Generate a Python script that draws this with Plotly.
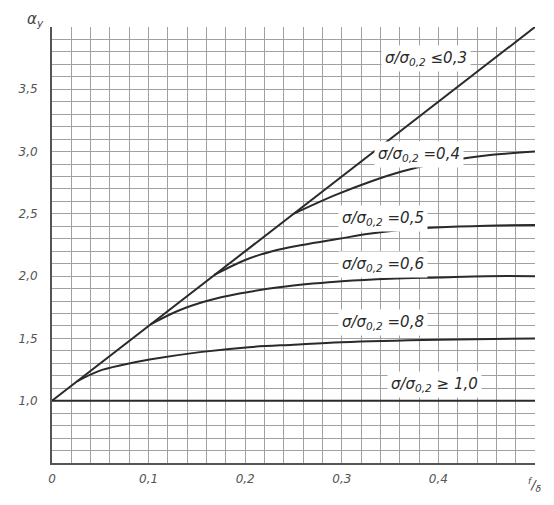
import plotly.graph_objects as go

# f/delta vs alpha_y, one curve per sigma/sigma0.2 ratio
# (curves start where they leave the straight line)
x_03 = [0.0, 0.5]
y_03 = [1.0, 4.0]

x_04 = [0.25, 0.293, 0.33, 0.362, 0.4, 0.431, 0.465, 0.5]
y_04 = [2.5, 2.65, 2.76, 2.84, 2.91, 2.95, 2.98, 3.0]

x_05 = [0.168, 0.2, 0.228, 0.259, 0.297, 0.328, 0.36, 0.397, 0.45, 0.5]
y_05 = [2.01, 2.13, 2.2, 2.25, 2.3, 2.34, 2.37, 2.39, 2.405, 2.41]

x_06 = [0.102, 0.13, 0.16, 0.194, 0.235, 0.27, 0.3, 0.35, 0.4, 0.45, 0.5]
y_06 = [1.612, 1.72, 1.8, 1.86, 1.91, 1.94, 1.96, 1.98, 1.99, 2.0, 2.0]

x_08 = [0.026, 0.049, 0.075, 0.101, 0.153, 0.204, 0.25, 0.3, 0.4, 0.5]
y_08 = [1.156, 1.24, 1.29, 1.33, 1.39, 1.43, 1.45, 1.47, 1.49, 1.5]

x_10 = [0.0, 0.5]
y_10 = [1.0, 1.0]

curves = [(x_03, y_03), (x_04, y_04), (x_05, y_05), (x_06, y_06), (x_08, y_08), (x_10, y_10)]

labels = ["σ/σ<sub>0,2</sub> ≤0,3", "σ/σ<sub>0,2</sub> =0,4", "σ/σ<sub>0,2</sub> =0,5",
          "σ/σ<sub>0,2</sub> =0,6", "σ/σ<sub>0,2</sub> =0,8", "σ/σ<sub>0,2</sub> ≥ 1,0"]
label_x = [0.387, 0.38, 0.343, 0.343, 0.343, 0.396]
label_y = [3.75, 2.98, 2.46, 2.09, 1.63, 1.13]

x_ticks = [0, 0.1, 0.2, 0.3, 0.4]
x_ticktext = ["0", "0,1", "0,2", "0,3", "0,4"]
y_ticks = [1.0, 1.5, 2.0, 2.5, 3.0, 3.5]
y_ticktext = ["1,0", "1,5", "2,0", "2,5", "3,0", "3,5"]

ink = "#2a2a2a"
grid = "#a0a0a0"
fnt = dict(family="DejaVu Sans", size=12, color="#555", style="italic")

fig = go.Figure()
for cx, cy in curves:
    fig.add_trace(go.Scatter(x=cx, y=cy, mode="lines", line=dict(color=ink, width=2),
                             line_shape="spline", showlegend=False, hoverinfo="skip"))

for t, lx, ly in zip(labels, label_x, label_y):
    fig.add_annotation(x=lx, y=ly, text=t, showarrow=False, bgcolor="white",
                       font=dict(family="DejaVu Sans", size=15, color=ink, style="italic"),
                       borderpad=3)

fig.add_annotation(x=0, y=4.0, xref="x", yref="y", text="α<sub>у</sub>", showarrow=False,
                   xanchor="right", xshift=-6, yshift=8,
                   font=dict(family="DejaVu Sans", size=15, color="#444", style="italic"))
fig.add_annotation(x=0.5, y=0.5, text="<sup>f</sup>/<sub>δ</sub>", showarrow=False,
                   xanchor="center", xshift=0, yshift=-22,
                   font=dict(family="DejaVu Sans", size=13, color="#444", style="italic"))

fig.update_xaxes(range=[0, 0.5], tickmode="array", tickvals=x_ticks, ticktext=x_ticktext,
                 showgrid=False, zeroline=False, showline=True, linecolor="#555", linewidth=2,
                 tickfont=fnt, ticks="", ticklabelstandoff=4,
                 minor=dict(dtick=0.02, tick0=0, ticks="", showgrid=True,
                            gridcolor=grid, gridwidth=1.4))
fig.update_yaxes(range=[0.5, 4.0], tickmode="array", tickvals=y_ticks, ticktext=y_ticktext,
                 showgrid=False, zeroline=False, showline=True, linecolor="#555", linewidth=2,
                 tickfont=fnt, ticks="", ticklabelstandoff=10,
                 minor=dict(dtick=0.1, tick0=0.5, ticks="", showgrid=True,
                            gridcolor=grid, gridwidth=1.4))

# page has an 8px body margin, so the figure is sized to fit inside it
fig.update_layout(width=546, height=497, margin=dict(l=44, r=19, t=19, b=42),
                  plot_bgcolor="white", paper_bgcolor="white")

fig.write_html("out.html")
